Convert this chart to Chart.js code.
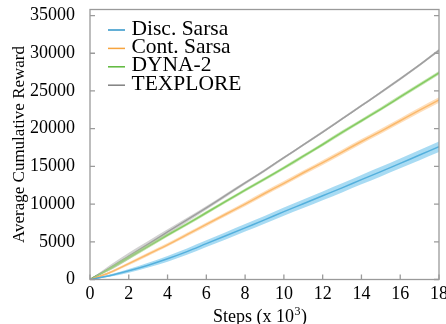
<!DOCTYPE html>
<html>
<head>
<meta charset="utf-8">
<script src="https://cdn.jsdelivr.net/npm/chart.js@4"></script>
<style>
  html, body { margin: 0; padding: 0; background: #fff; }
  #wrap { width: 446px; height: 324px; }
</style>
</head>
<body>
<div id="wrap"><canvas id="chart" width="446" height="324"></canvas></div>
<script>
// steps in thousands
const steps = [0, 1, 2, 3, 4, 5, 6, 7, 8, 9, 10, 11, 12, 13, 14, 15, 16, 17, 18];

const discSarsa = [0, 500, 1150, 1900, 2750, 3700, 4750, 5800, 6850, 7900, 9000, 10050, 11100, 12150, 13250, 14300, 15400, 16500, 17600];
const discSpread = [0, 150, 250, 320, 380, 420, 450, 480, 500, 520, 540, 560, 580, 600, 620, 640, 660, 680, 700];

const contSarsa = [0, 900, 2100, 3350, 4600, 5950, 7300, 8650, 10000, 11400, 12750, 14150, 15500, 16900, 18300, 19650, 21050, 22450, 23800];
const contSpread = [0, 150, 200, 230, 240, 250, 260, 270, 280, 290, 300, 300, 310, 320, 320, 330, 340, 340, 350];

const dyna2 = [0, 1400, 2900, 4400, 5900, 7350, 8850, 10350, 11850, 13300, 14800, 16350, 17900, 19500, 21050, 22600, 24200, 25800, 27400];
const dynaSpread = [0, 200, 250, 250, 230, 220, 220, 220, 220, 220, 230, 230, 230, 240, 240, 240, 250, 250, 250];

const texplore = [0, 1500, 3100, 4700, 6300, 7900, 9500, 11150, 12800, 14450, 16150, 17850, 19550, 21300, 23050, 24800, 26600, 28450, 30400];
const texSpread = [0, 350, 450, 400, 350, 300, 260, 230, 200, 180, 170, 160, 160, 160, 160, 160, 170, 170, 180];

const seriesNames = ['Disc. Sarsa', 'Cont. Sarsa', 'DYNA-2', 'TEXPLORE'];
const lineColors = ['#2f94c8', '#f7a43e', '#5cb83a', '#808080'];
const bandColors = ['rgba(110,195,235,0.6)', 'rgba(253,200,140,0.6)', 'rgba(160,215,125,0.6)', 'rgba(180,180,180,0.6)'];
const yTicks = [0, 5000, 10000, 15000, 20000, 25000, 30000, 35000];

const FONT = '"Liberation Serif", "Times New Roman", serif';

function pts(vals, spread, sign) {
  return steps.map((x, i) => ({ x: x, y: vals[i] + sign * (spread ? spread[i] : 0) }));
}

const allMeans = [discSarsa, contSarsa, dyna2, texplore];
const allSpreads = [discSpread, contSpread, dynaSpread, texSpread];

const datasets = [];
// bands first so they sit behind the lines
allMeans.forEach((m, k) => {
  datasets.push({ label: 'lo' + k, data: pts(m, allSpreads[k], -1), borderWidth: 0, pointRadius: 0, fill: false, cubicInterpolationMode: 'monotone' });
  datasets.push({ label: 'hi' + k, data: pts(m, allSpreads[k], 1), borderWidth: 0, pointRadius: 0, fill: '-1', backgroundColor: bandColors[k], cubicInterpolationMode: 'monotone' });
});
allMeans.forEach((m, k) => {
  datasets.push({ label: seriesNames[k], data: pts(m, null, 0), borderColor: lineColors[k], borderWidth: 1.5, pointRadius: 0, fill: false, cubicInterpolationMode: 'monotone' });
});

// frame, inward ticks, x title with superscript, legend
const decorations = {
  id: 'decorations',
  afterDraw(chart) {
    const ctx = chart.ctx;
    const a = chart.chartArea;
    const xs = chart.scales.x, ys = chart.scales.y;
    ctx.save();
    ctx.strokeStyle = '#9a9a9a';
    ctx.lineWidth = 1.3;
    ctx.strokeRect(a.left, a.top, a.right - a.left, a.bottom - a.top);
    ctx.beginPath();
    xs.ticks.forEach(t => {
      const px = xs.getPixelForValue(t.value);
      ctx.moveTo(px, a.bottom); ctx.lineTo(px, a.bottom - 5);
    });
    ys.ticks.forEach(t => {
      const py = ys.getPixelForValue(t.value);
      ctx.moveTo(a.left, py); ctx.lineTo(a.left + 5, py);
      ctx.moveTo(a.right, py); ctx.lineTo(a.right - 5, py);
    });
    ctx.stroke();

    ctx.fillStyle = '#000';
    ctx.textBaseline = 'alphabetic';

    // x axis title: "Steps (x 10" + superscript 3 + ")"
    const main = 'Steps (x 10', sup = '3', close = ')';
    ctx.font = '18px ' + FONT;
    const wMain = ctx.measureText(main).width;
    const wClose = ctx.measureText(close).width;
    ctx.font = '12px ' + FONT;
    const wSup = ctx.measureText(sup).width;
    let tx = 259.5 - (wMain + wSup + wClose) / 2;
    const by = 321.5;
    ctx.font = '18px ' + FONT;
    ctx.fillText(main, tx, by);
    ctx.font = '12px ' + FONT;
    ctx.fillText(sup, tx + wMain + 0.5, by - 7);
    ctx.font = '18px ' + FONT;
    ctx.fillText(close, tx + wMain + wSup + 1, by);

    // legend
    ctx.font = '21.5px ' + FONT;
    seriesNames.forEach((name, i) => {
      const y = a.top + 20.5 + i * 18.4;
      ctx.strokeStyle = lineColors[i];
      ctx.lineWidth = 1.5;
      ctx.beginPath();
      ctx.moveTo(a.left + 18, y); ctx.lineTo(a.left + 35, y);
      ctx.stroke();
      ctx.fillText(name, a.left + 41.5, y + 4.5);
    });
    ctx.restore();
  }
};

new Chart(document.getElementById('chart'), {
  type: 'line',
  data: { datasets: datasets },
  options: {
    responsive: false,
    animation: false,
    layout: { padding: { left: 0, top: 9.5, right: 7, bottom: 0 } },
    plugins: { legend: { display: false }, tooltip: { enabled: false } },
    scales: {
      x: {
        type: 'linear',
        min: 0, max: 18,
        grid: { display: false },
        border: { display: false },
        ticks: { stepSize: 2, color: '#000', padding: -4, maxRotation: 0, font: { family: FONT, size: 18 } },
        title: { display: false, text: 'Steps (x 10³)' },
        afterFit: s => { s.height = 44.5; s.paddingLeft = 0; s.paddingRight = 0; }
      },
      y: {
        type: 'linear',
        min: 0, max: 35800,
        grid: { display: false },
        border: { display: false },
        afterBuildTicks: s => { s.ticks = yTicks.map(v => ({ value: v })); },
        ticks: { color: '#000', padding: 7, font: { family: FONT, size: 18 }, callback: v => String(v) },
        title: { display: true, text: 'Average Cumulative Reward', color: '#000', padding: { top: 9, bottom: 0 }, font: { family: FONT, size: 17 } },
        afterFit: s => { s.width = 90; s.paddingTop = 0; s.paddingBottom = 0; }
      }
    }
  },
  plugins: [decorations]
});
</script>
</body>
</html>
